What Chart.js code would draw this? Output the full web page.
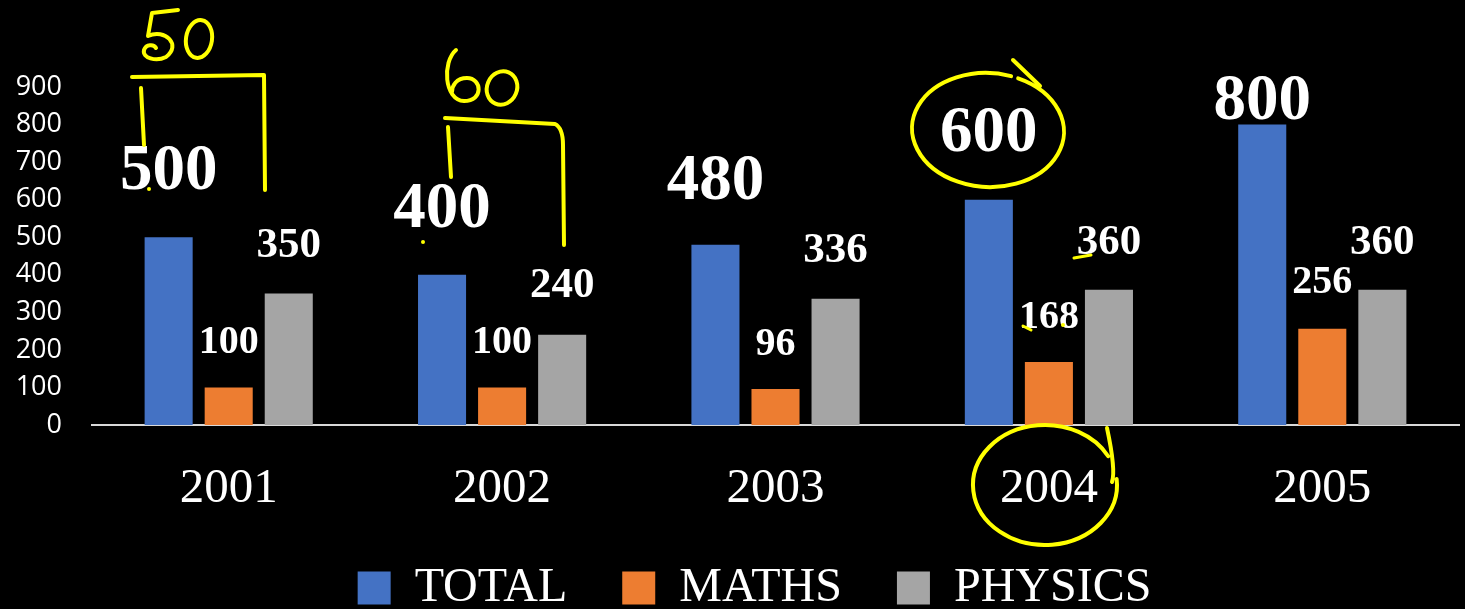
<!DOCTYPE html>
<html>
<head>
<meta charset="utf-8">
<script src="https://cdn.jsdelivr.net/npm/chart.js@4.4.1/dist/chart.umd.min.js"></script>
<style>
  html, body { margin: 0; padding: 0; background: #000; overflow: hidden; }
  canvas { display: block; }
</style>
</head>
<body>
<canvas id="bar_chart" width="1465" height="622"></canvas>
<script>
var years = ['2001', '2002', '2003', '2004', '2005'];
var total = [500, 400, 480, 600, 800];
var maths = [100, 100, 96, 168, 256];
var physics = [350, 240, 336, 360, 360];
var yMin = 0;
var yMax = 900;
var yStep = 100;

// label look per dataset (size in px, gap between bar top and baseline)
var labelStyle = [
    { size: 65, gap: [48, 48, 46, 49, 6] },
    { size: 40, gap: [34, 34, 34, 34, 36] },
    { size: 43, gap: [37, 38, 37, 36, 36] }
];

var valueLabels = {
    id: 'valueLabels',
    afterDatasetsDraw: function(chart) {
        var ctx = chart.ctx;
        ctx.save();
        ctx.fillStyle = '#fff';
        ctx.textAlign = 'center';
        ctx.textBaseline = 'alphabetic';
        chart.data.datasets.forEach(function(ds, i) {
            var st = labelStyle[i];
            ctx.font = 'bold ' + st.size + 'px "Liberation Serif"';
            chart.getDatasetMeta(i).data.forEach(function(bar, j) {
                ctx.fillText(ds.data[j], bar.x, bar.y - st.gap[j]);
            });
        });
        ctx.restore();
    }
};

// let the y tick labels run into the left margin without being clipped
var yLabelRoom = {
    id: 'yLabelRoom',
    afterLayout: function(chart) {
        chart.scales.y.left = 0;
    }
};

// yellow pen marks drawn over the slide
var penMarks = {
    id: 'penMarks',
    afterDraw: function(chart) {
        var ctx = chart.ctx;
        ctx.save();
        ctx.strokeStyle = '#ffff00';
        ctx.fillStyle = '#ffff00';
        ctx.lineWidth = 4;
        ctx.lineCap = 'round';
        ctx.lineJoin = 'round';

        // "50"
        ctx.beginPath();
        ctx.moveTo(178, 10);
        ctx.lineTo(152, 13);
        ctx.lineTo(148, 36);
        ctx.bezierCurveTo(165, 28, 182, 45, 166, 57);
        ctx.bezierCurveTo(156, 62, 142, 58, 144, 50);
        ctx.bezierCurveTo(146, 44, 154, 44, 156, 48);
        ctx.stroke();
        ctx.beginPath();
        ctx.ellipse(199, 39, 13, 19, 0.15, 0, Math.PI * 2);
        ctx.stroke();

        // bracket over 2001
        ctx.beginPath();
        ctx.moveTo(132, 77);
        ctx.lineTo(264, 75);
        ctx.lineTo(265, 190);
        ctx.moveTo(141, 88);
        ctx.lineTo(144, 145);
        ctx.stroke();

        // "60"
        ctx.beginPath();
        ctx.moveTo(456, 50);
        ctx.bezierCurveTo(442, 62, 444, 100, 464, 101);
        ctx.bezierCurveTo(484, 101, 482, 78, 467, 78);
        ctx.bezierCurveTo(456, 78, 452, 86, 452, 92);
        ctx.stroke();
        ctx.beginPath();
        ctx.ellipse(502, 88, 15, 17, 0.4, 0, Math.PI * 2);
        ctx.stroke();

        // bracket over 2002
        ctx.beginPath();
        ctx.moveTo(445, 118);
        ctx.lineTo(555, 124);
        ctx.quadraticCurveTo(563, 128, 563, 145);
        ctx.lineTo(564, 245);
        ctx.moveTo(448, 127);
        ctx.lineTo(451, 177);
        ctx.stroke();

        // circle round 600
        ctx.beginPath();
        ctx.ellipse(988, 130, 76, 57, 0.05, -1.2, Math.PI * 2 - 1.3);
        ctx.moveTo(1013, 60);
        ctx.lineTo(1040, 86);
        ctx.stroke();

        // circle round 2004
        ctx.beginPath();
        ctx.ellipse(1045, 485, 72, 60, 0, -0.1, Math.PI * 2 - 0.5);
        ctx.moveTo(1112, 482);
        ctx.quadraticCurveTo(1116, 470, 1107, 428);
        ctx.stroke();

        // small ticks near labels
        ctx.lineWidth = 3;
        ctx.beginPath();
        ctx.moveTo(1074, 258);
        ctx.lineTo(1091, 255);
        ctx.moveTo(1023, 326);
        ctx.lineTo(1031, 330);
        ctx.stroke();
        [[149, 189], [423, 242], [1063, 325]].forEach(function(p) {
            ctx.beginPath();
            ctx.arc(p[0], p[1], 2, 0, Math.PI * 2);
            ctx.fill();
        });
        ctx.restore();
    }
};

var chart_data = {
    labels: years,
    datasets: [{
        label: 'TOTAL',
        backgroundColor: '#4472C4',
        borderWidth: 0,
        data: total
    }, {
        label: 'MATHS',
        backgroundColor: '#ED7D31',
        borderWidth: 0,
        data: maths
    }, {
        label: 'PHYSICS',
        backgroundColor: '#A5A5A5',
        borderWidth: 0,
        data: physics
    }]
};

var graph = new Chart(document.getElementById('bar_chart'), {
    type: 'bar',
    data: chart_data,
    options: {
        responsive: false,
        animation: false,
        barPercentage: 0.8,
        categoryPercentage: 0.659,
        layout: {
            padding: { left: 50, right: 6, top: 87, bottom: 0 }
        },
        scales: {
            x: {
                grid: { display: false, drawTicks: false },
                border: { display: true, color: '#d9d9d9', width: 2 },
                ticks: {
                    color: '#fff',
                    padding: 35,
                    font: { family: '"Liberation Serif"', size: 49 }
                },
                afterFit: function(scale) { scale.height = 84; }
            },
            y: {
                min: yMin,
                max: yMax,
                grid: { display: false, drawTicks: false },
                border: { display: false },
                ticks: {
                    stepSize: yStep,
                    color: '#fff',
                    padding: 30,
                    font: { family: '"Open Sans"', size: 27 }
                },
                afterFit: function(scale) { scale.width = 42; }
            }
        },
        plugins: {
            tooltip: { enabled: false },
            legend: {
                position: 'bottom',
                labels: {
                    color: '#fff',
                    boxWidth: 33,
                    boxHeight: 33,
                    padding: 55,
                    font: { family: '"Liberation Serif"', size: 48 }
                }
            }
        }
    },
    plugins: [valueLabels, yLabelRoom, penMarks]
});
</script>
</body>
</html>
